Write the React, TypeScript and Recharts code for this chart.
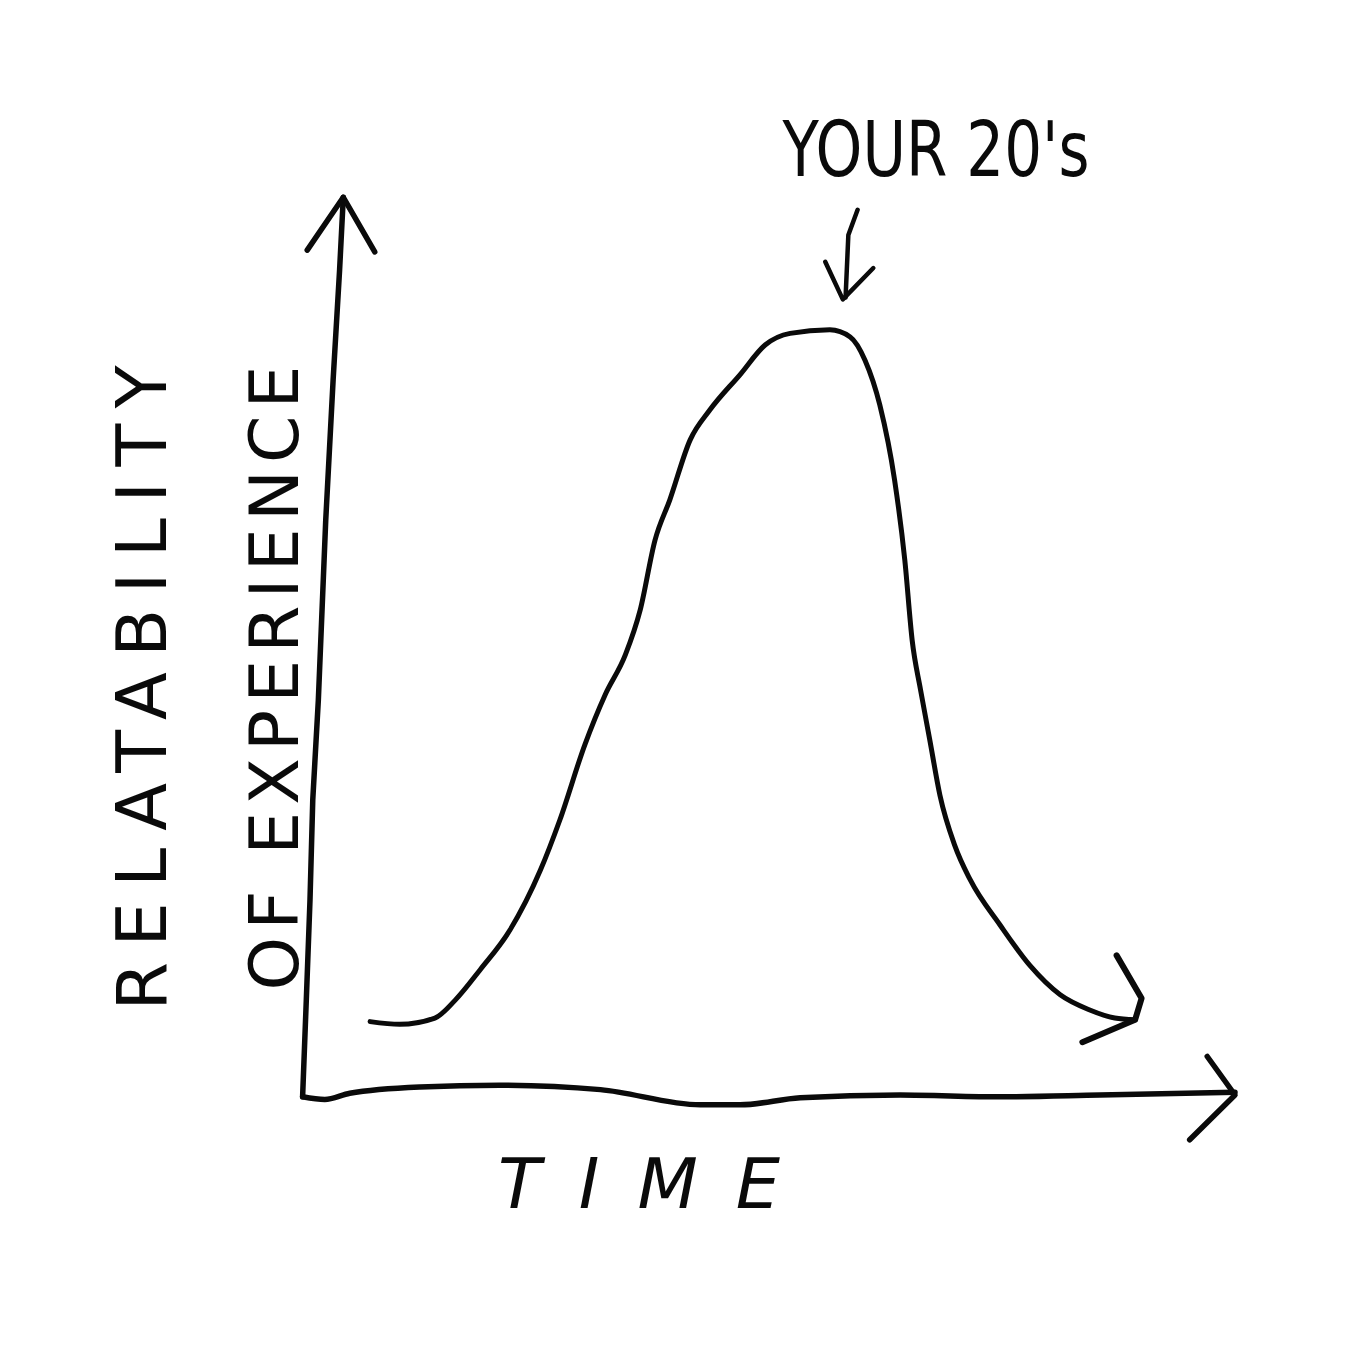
import { LineChart, Line, XAxis, YAxis } from "recharts";

// hand-drawn bell curve: time on x, relatability on y (0-100 units)
const timeValues = [
  6.5, 9.7, 13.5, 15.7, 18.4, 21.6, 24.9, 27.0, 29.7, 31.9, 34.1, 35.7, 37.3,
  38.9, 41.1, 43.2, 46.5, 49.2, 51.9, 56.2, 58.4, 60.0, 61.6, 63.2, 64.3, 65.1,
  66.0, 67.0, 68.1, 69.7, 71.4, 74.6, 77.8, 81.1, 84.3, 87.0, 89.2,
];
const relatabilityValues = [
  8.2, 7.9, 8.6, 10.6, 14.0, 18.4, 25.1, 30.7, 39.1, 44.7, 49.2, 54.2, 62.0,
  66.5, 73.2, 76.5, 80.5, 83.8, 85.1, 85.5, 84.7, 82.1, 77.1, 68.7, 59.8, 50.8,
  45.3, 39.7, 33.5, 27.9, 24.0, 19.0, 14.5, 11.2, 9.5, 8.6, 8.4,
];

// wobbly axes and arrowheads, same units
const yAxisX = [-0.8, -0.4, 0.0, 0.3, 0.9, 1.7, 2.5, 3.2, 3.6];
const yAxisY = [-0.2, 10.6, 21.8, 33.0, 44.1, 64.2, 79.9, 92.2, 100.3];
const xAxisX = [-0.8, 1.6, 4.3, 11.9, 20.5, 31.4, 42.2, 46.5, 53.0, 63.8, 74.6, 85.4, 100];
const xAxisY = [-0.2, -0.5, 0.2, 0.9, 1.1, 0.6, -1.1, -1.1, -0.3, 0, -0.2, 0, 0.3];
const yArrowX = [-0.3, 3.6, 7.0];
const yArrowY = [94.4, 100.3, 94.2];
const xArrowX = [97.0, 100, 95.1];
const xArrowY = [4.3, 0, -5.0];
const curveArrowX = [87.2, 89.9, 89.2, 83.5];
const curveArrowY = [15.6, 10.8, 8.4, 5.9];
const pointerStemX = [59.2, 58.2, 57.9];
const pointerStemY = [98.9, 96.1, 89.1];
const pointerHeadX = [55.7, 57.6, 60.9];
const pointerHeadY = [93.1, 88.9, 92.4];

const yAxisLabel = "RELATABILITY";
const yAxisLabel2 = "OF EXPERIENCE";
const xAxisLabel = "TIME";
const peakLabel = "YOUR 20's";

const toRows = (xs: number[], ys: number[]) => xs.map((x, i) => ({ x, y: ys[i] }));

const ink = "#0a0a0a";
const font = "'DejaVu Sans', sans-serif";

export default function App() {
  const stroke = {
    stroke: ink,
    dot: false,
    activeDot: false,
    isAnimationActive: false,
    strokeLinecap: "round" as const,
    strokeLinejoin: "round" as const,
    dataKey: "y",
  };

  return (
    <div style={{ position: "absolute", left: 0, top: 0, width: 1365, height: 1365, background: "#fff" }}>
      <LineChart
        width={1365}
        height={1365}
        margin={{ top: 110.5, right: 37.5, bottom: 180.5, left: 217.5 }}
      >
        <XAxis type="number" dataKey="x" domain={[-10, 110]} hide />
        <YAxis type="number" domain={[-10, 110]} hide />
        <Line {...stroke} type="linear" data={toRows(yAxisX, yAxisY)} strokeWidth={5.5} />
        <Line {...stroke} type="linear" data={toRows(yArrowX, yArrowY)} strokeWidth={5.5} />
        <Line {...stroke} type="monotone" data={toRows(xAxisX, xAxisY)} strokeWidth={5.5} />
        <Line {...stroke} type="linear" data={toRows(xArrowX, xArrowY)} strokeWidth={5.5} />
        <Line {...stroke} type="monotone" data={toRows(timeValues, relatabilityValues)} strokeWidth={5} />
        <Line {...stroke} type="linear" data={toRows(curveArrowX, curveArrowY)} strokeWidth={6} />
        <Line {...stroke} type="linear" data={toRows(pointerStemX, pointerStemY)} strokeWidth={4.5} />
        <Line {...stroke} type="linear" data={toRows(pointerHeadX, pointerHeadY)} strokeWidth={4.5} />
      </LineChart>
      <svg
        width={1365}
        height={1365}
        style={{ position: "absolute", left: 0, top: 0, pointerEvents: "none" }}
      >
        <text x={936} y={176} fontFamily={font} fontSize={76} fill={ink} textAnchor="middle"
          textLength={307} lengthAdjust="spacingAndGlyphs">
          {peakLabel}
        </text>
        <text x={639} y={1208} fontFamily={font} fontSize={70} fill={ink} textAnchor="middle"
          textLength={282} fontStyle="italic">
          {xAxisLabel}
        </text>
        <text transform="translate(166,688) rotate(-90)" fontFamily={font} fontSize={70} fill={ink}
          textAnchor="middle" textLength={645}>
          {yAxisLabel}
        </text>
        <text transform="translate(298,678) rotate(-90)" fontFamily={font} fontSize={68} fill={ink}
          textAnchor="middle" textLength={625}>
          {yAxisLabel2}
        </text>
      </svg>
    </div>
  );
}
